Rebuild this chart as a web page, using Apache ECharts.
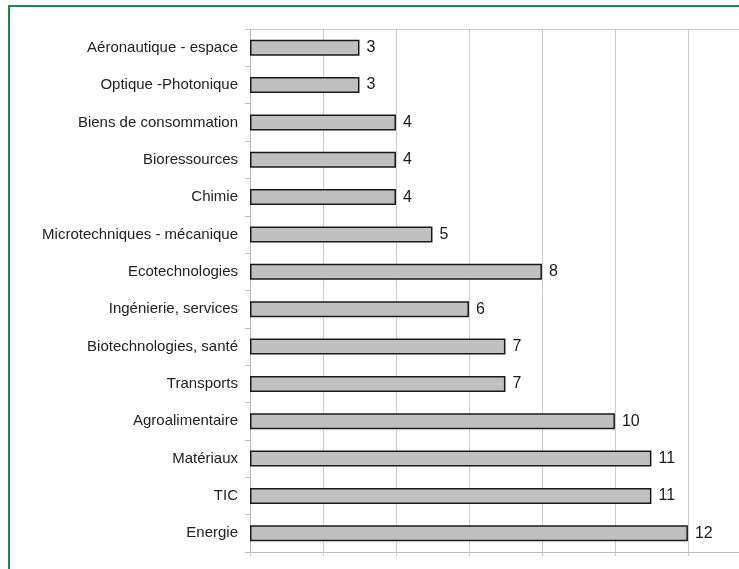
<!DOCTYPE html>
<html>
<head>
<meta charset="utf-8">
<script src="https://cdn.jsdelivr.net/npm/echarts@6/dist/echarts.min.js"></script>
<style>
  html, body { margin: 0; padding: 0; background: #fff; }
  #chart { width: 739px; height: 569px; }
</style>
</head>
<body>
<div id="chart"></div>
<script>
// secteurs, de haut en bas
const categories = [
  'Aéronautique - espace',
  'Optique -Photonique',
  'Biens de consommation',
  'Bioressources',
  'Chimie',
  'Microtechniques - mécanique',
  'Ecotechnologies',
  'Ingénierie, services',
  'Biotechnologies, santé',
  'Transports',
  'Agroalimentaire',
  'Matériaux',
  'TIC',
  'Energie'
];
const values = [3, 3, 4, 4, 4, 5, 8, 6, 7, 7, 10, 11, 11, 12];

const chart = echarts.init(document.getElementById('chart'));

// l'image d'origine est rognée à droite : l'axe s'arrête vers 13,4
const X_MAX = 13.4;

const option = {
  backgroundColor: '#fff',
  animation: false,
  textStyle: { fontFamily: 'Liberation Sans, Arial, sans-serif' },
  graphic: [
    {
      type: 'rect',
      shape: { x: 9, y: 6, width: 800, height: 700 },
      style: { fill: 'none', stroke: '#1b8a4f', lineWidth: 2 },
      silent: true
    }
  ],
  grid: {
    left: 250,
    top: 29,
    right: 0,
    bottom: 17
  },
  xAxis: [
    {
      type: 'value',
      min: 0,
      max: X_MAX,
      interval: 2,
      axisLabel: { show: false },
      axisLine: { show: true, lineStyle: { color: '#bbb', width: 1 } },
      axisTick: { show: true, length: 4, lineStyle: { color: '#ccc' } },
      splitLine: { show: true, lineStyle: { color: '#ccc', width: 1 } }
    },
    {
      type: 'value',
      position: 'top',
      min: 0,
      max: X_MAX,
      interval: 2,
      axisLabel: { show: false },
      axisLine: { show: true, lineStyle: { color: '#ccc', width: 1 } },
      axisTick: { show: false },
      splitLine: { show: false }
    }
  ],
  yAxis: {
    type: 'category',
    data: categories,
    inverse: true,
    axisLine: { show: true, lineStyle: { color: '#bbb', width: 1 } },
    axisTick: { show: true, length: 5, lineStyle: { color: '#bbb' } },
    axisLabel: {
      color: '#222',
      fontSize: 15,
      margin: 12
    }
  },
  series: [
    {
      type: 'bar',
      data: values,
      barWidth: 16,
      itemStyle: {
        color: '#c0c0c0',
        borderColor: '#1a1a1a',
        borderWidth: 1.5
      },
      label: {
        show: true,
        position: 'right',
        distance: 7,
        color: '#1a1a1a',
        fontSize: 16
      }
    }
  ]
};

chart.setOption(option);
</script>
</body>
</html>
